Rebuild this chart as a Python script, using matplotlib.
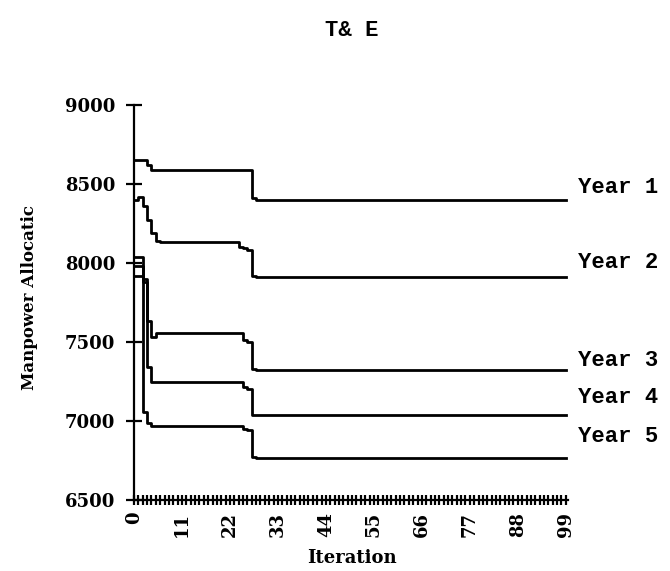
import matplotlib
matplotlib.use("Agg")
import matplotlib.pyplot as plt
import numpy as np

# iteration axis 0..99, labels every 11th
iterations = np.arange(100)
tick_labels = [0, 11, 22, 33, 44, 55, 66, 77, 88, 99]

# manpower allocation per year (runs of equal values)
year1 = [8650, 8650, 8650, 8620] + [8590] * 23 + [8410] + [8400] * 72
year2 = [8400, 8420, 8360, 8270, 8190, 8140] + [8130] * 18 + [8100, 8095, 8085, 7920] + [7910] * 72
year3 = [8040, 8040, 7900, 7630, 7530, 7560] + [7555] * 19 + [7515, 7500, 7330] + [7320] * 72
year4 = [7980, 7980, 7880, 7340] + [7250] * 21 + [7215, 7200, 7040] + [7035] * 72
year5 = [7920, 7920, 7060, 6990] + [6970] * 21 + [6950, 6945, 6770] + [6765] * 72

series = [year1, year2, year3, year4, year5]
names = ["Year 1", "Year 2", "Year 3", "Year 4", "Year 5"]
label_y = [8475, 8000, 7386, 7146, 6899]

serif = "DejaVu Serif"
mono = "Liberation Mono"

fig = plt.figure(figsize=(6.7, 5.71), dpi=100)
ax = fig.add_axes([134 / 670, 71 / 571, 434 / 670, 395 / 571])

for vals, name, ly in zip(series, names, label_y):
    ax.plot(iterations, vals, color="black", lw=2, drawstyle="steps-post")
    ax.text(101.8, ly, name, family=mono, fontsize=16, fontweight="bold",
            va="center", ha="left", clip_on=False)

ax.set_xlim(0, 99.5)
ax.set_ylim(6500, 9000)
ax.set_yticks([6500, 7000, 7500, 8000, 8500, 9000])
ax.set_xticks(tick_labels)
ax.set_xticks(iterations, minor=True)
ax.set_xticklabels([str(t) for t in tick_labels], rotation=90)

for s in ["top", "right"]:
    ax.spines[s].set_visible(False)
for s in ["left", "bottom"]:
    ax.spines[s].set_linewidth(1.6)

ax.tick_params(axis="y", direction="inout", length=11, width=1.6, pad=8, labelsize=13)
ax.tick_params(axis="x", which="both", direction="inout", length=7, width=1.6, pad=5, labelsize=13)
for lab in ax.get_xticklabels() + ax.get_yticklabels():
    lab.set_family(serif)
    lab.set_fontweight("bold")

fig.text(352 / 670, 1 - 30 / 571, "T& E", family=mono, fontsize=16, fontweight="bold",
         ha="center", va="center")
fig.text(352 / 670, 1 - 558 / 571, "Iteration", family=serif, fontsize=13,
         fontweight="bold", ha="center", va="center")
fig.text(30 / 670, 1 - 297 / 571, "Manpower Allocatic", family=serif, fontsize=12,
         fontweight="bold", rotation=90, ha="center", va="center")

fig.savefig("out.png", dpi=100)
